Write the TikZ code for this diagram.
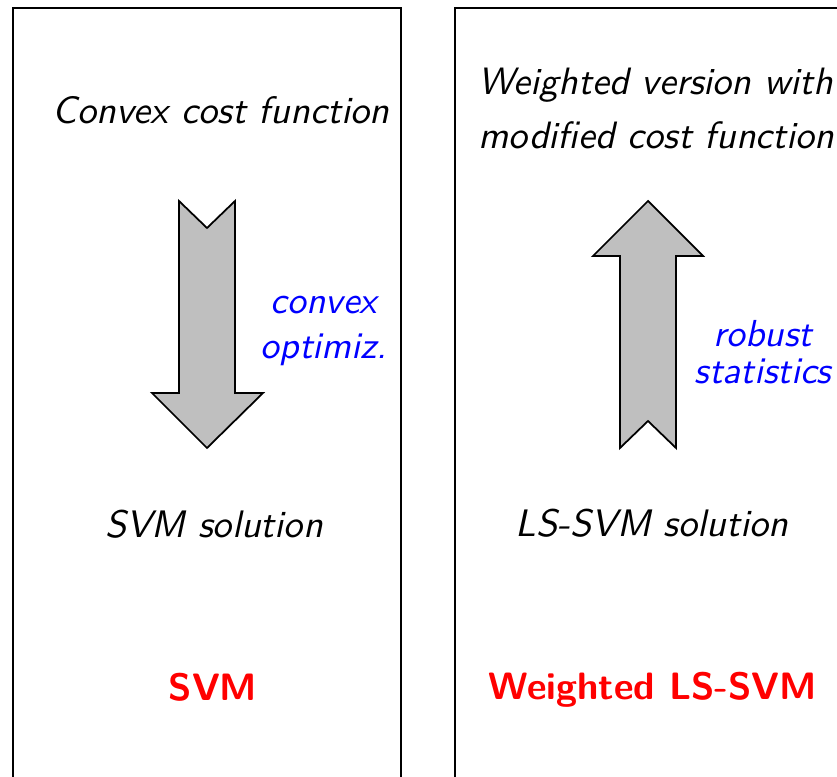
\documentclass[tikz,border=0pt]{standalone}
\usepackage{xcolor}
\usepackage{tikz}
\usetikzlibrary{positioning}
\tikzset{
  lbl/.style={font=\sffamily\slshape\fontsize{10.9}{12.8}\selectfont, inner sep=0pt},
  method/.style={font=\sffamily\bfseries\fontsize{10.85}{12.8}\selectfont, red, inner sep=0pt},
  note/.style={lbl, blue, align=center},
  bigarrow/.style={fill=gray!50, draw=black, line width=0.5pt, line join=miter}
}

\begin{document}
\begin{tikzpicture}[x=1cm, y=1cm]
  \clip (0,0) rectangle (8.37,7.76);
  \useasboundingbox (0,0) rectangle (8.37,7.76);
  % ================================================================
  % left panel: SVM
  % ================================================================
  \begin{scope}[shift={(0,0)}]
    \draw[line width=0.5pt] (0.13,-0.3) -- (0.13,7.68) -- (4.01,7.68) -- (4.01,-0.3);
    \node[lbl, anchor=base] (cost) at (2.21,6.52) {Convex cost function};
    % down arrow -----------------------------------------------------
    \filldraw[bigarrow] (1.79,5.75) -- (2.07,5.48) -- (2.35,5.75) -- (2.35,3.83)
      -- (2.63,3.83) -- (2.07,3.28) -- (1.52,3.83) -- (1.79,3.83) -- cycle;
    \node[note, font=\sffamily\slshape\fontsize{10.7}{12.8}\selectfont] (cvx) at (3.24,4.45) {convex\\optimiz.};
    \node[lbl, anchor=base] (svmsol) at (2.14,2.39) {SVM solution};
    \node[method, anchor=base] (svm) at (2.13,0.76) {SVM};
  \end{scope}
  % ================================================================
  % right panel: weighted LS-SVM
  % ================================================================
  \begin{scope}[shift={(0,0)}]
    \draw[line width=0.5pt] (4.55,-0.3) -- (4.55,7.68) -- (8.6,7.68);
    \node[lbl, align=left, anchor=base west, font=\sffamily\slshape\fontsize{10.85}{15.5}\selectfont] (wcost) at (4.78,6.27)
      {Weighted version with\\modified cost function};
    % up arrow -------------------------------------------------------
    \filldraw[bigarrow] (6.20,3.28) -- (6.48,3.55) -- (6.76,3.28) -- (6.76,5.20)
      -- (7.03,5.20) -- (6.48,5.75) -- (5.93,5.20) -- (6.20,5.20) -- cycle;
    \node[note, font=\sffamily\slshape\fontsize{10.7}{10.5}\selectfont] (rob) at (7.63,4.24) {robust\\statistics};
    \node[lbl, anchor=base] (lssol) at (6.52,2.40) {LS-SVM solution};
    \node[method, anchor=base] (wls) at (6.53,0.77) {Weighted LS-SVM};
  \end{scope}
\end{tikzpicture}
\end{document}
